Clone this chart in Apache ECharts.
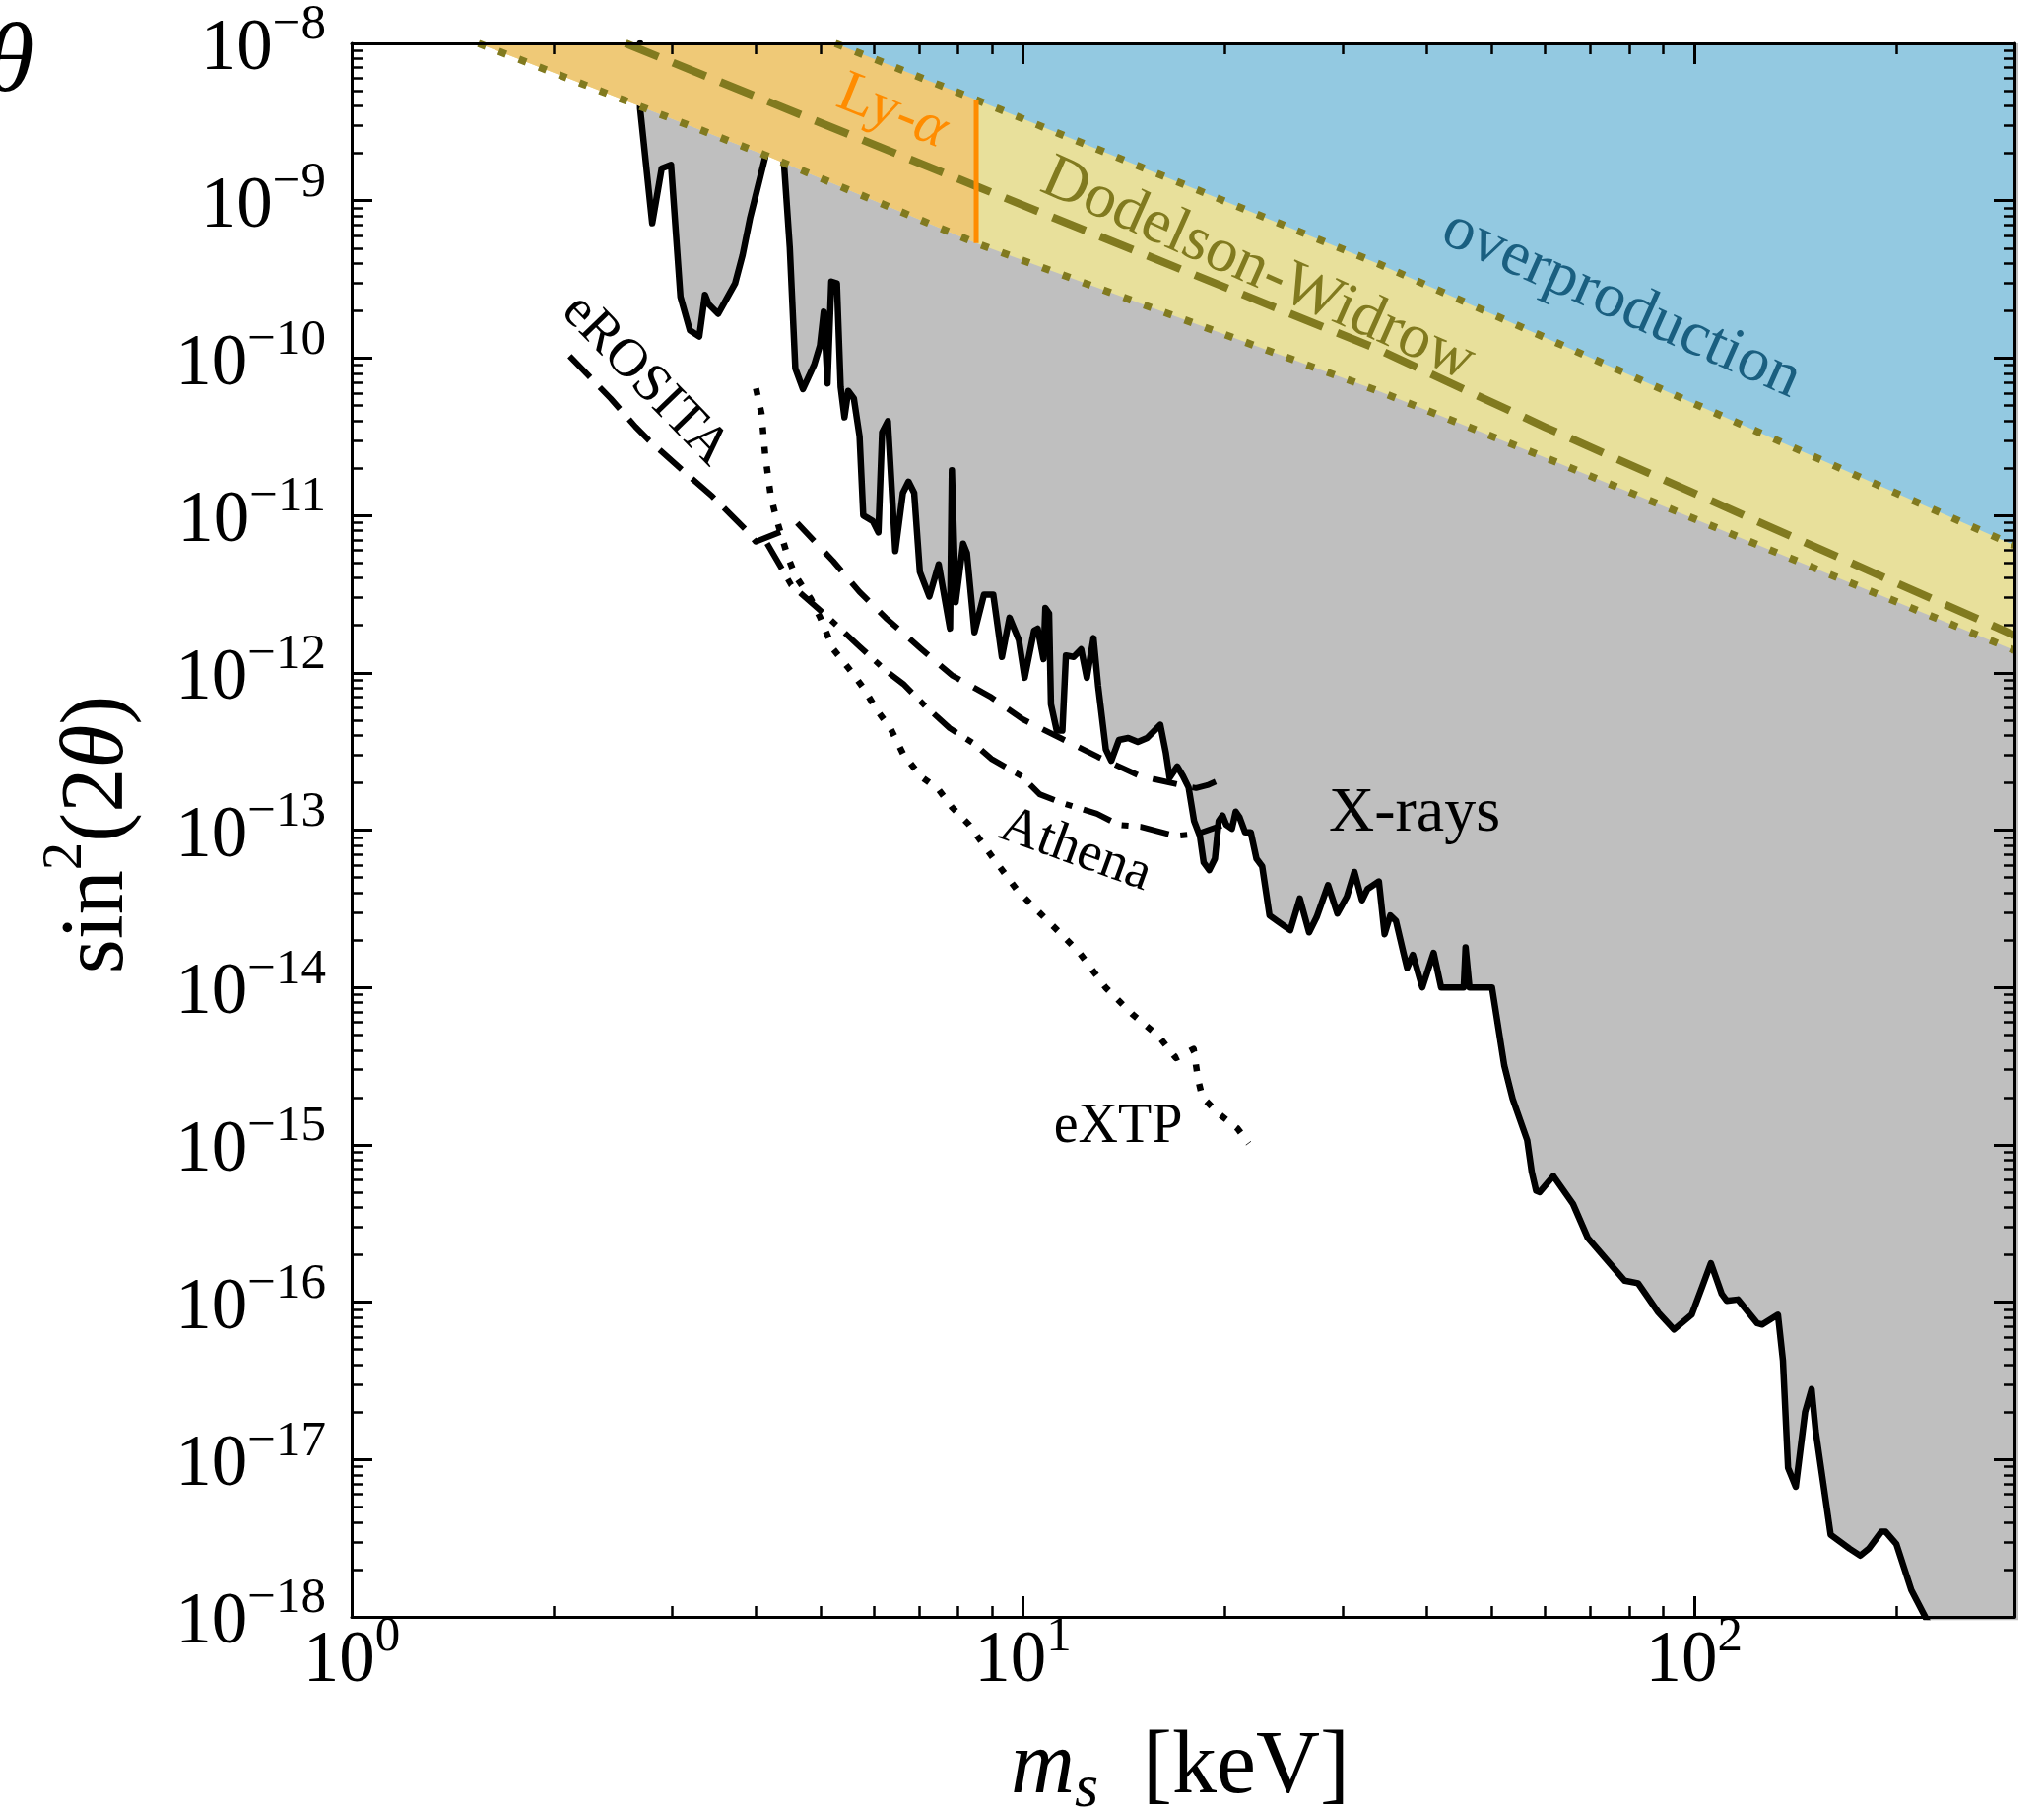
<!DOCTYPE html>
<html>
<head>
<meta charset="utf-8">
<title>Sterile neutrino dark matter: mass vs. mixing</title>
<script src="https://cdn.jsdelivr.net/npm/echarts@6.0.0/dist/echarts.min.js"></script>
<style>
  html, body { margin: 0; padding: 0; background: #ffffff; }
  #chart { width: 2075px; height: 1836px; }
</style>
</head>
<body>
<div id="chart"></div>
<script>
// ---------------------------------------------------------------------------
// Data: sterile neutrino mass m_s [keV] and mixing angle sin^2(2θ)
// ---------------------------------------------------------------------------

// X-ray line-search bound (everything above it is excluded)
const xrayMass = [
  2.690, 2.690, 2.804, 2.896, 2.991, 3.089, 3.191, 3.295, 3.360, 3.403,
  3.516, 3.726, 3.823, 3.924, 4.027, 4.131, 4.261, 4.408, 4.495, 4.581,
  4.702, 4.889, 4.985, 5.050, 5.116, 5.183, 5.283, 5.352, 5.422, 5.493,
  5.600, 5.710, 5.783, 5.974, 6.091, 6.170, 6.292, 6.455, 6.625, 6.754,
  6.887, 7.022, 7.254, 7.491, 7.787, 7.837, 7.940, 8.146, 8.252, 8.469,
  8.749, 9.033, 9.304, 9.550, 9.863, 10.06, 10.39, 10.52, 10.73, 10.80,
  10.94, 11.01, 11.23, 11.45, 11.59, 11.90, 12.21, 12.45, 12.74, 12.94,
  13.29, 13.54, 13.90, 14.35, 14.83, 15.31, 16.02, 16.33, 16.54, 16.98,
  17.31, 17.65, 17.99, 18.35, 18.59, 18.95, 19.32, 19.57, 19.83, 20.09,
  20.48, 20.75, 21.02, 21.43, 21.85, 22.28, 22.72, 23.30, 23.91, 25.02,
  25.85, 26.69, 27.39, 28.48, 29.41, 30.38, 31.18, 32.00, 32.62, 33.91,
  34.58, 35.26, 35.95, 36.89, 37.36, 38.10, 39.35, 40.91, 41.98, 45.36,
  45.65, 46.27, 49.98, 52.14, 53.65, 56.40, 57.27, 58.15, 58.87, 61.69,
  65.99, 69.42, 78.81, 82.49, 88.44, 93.31, 99.15, 102.7, 105.9, 109.9,
  111.8, 116.2, 124.1, 126.3, 133.3, 135.6, 138.0, 141.7, 146.3, 149.6,
  151.7, 159.7, 170.5, 176.8, 182.0, 190.1, 192.9, 200.1, 210.6, 221.5,
  228.0, 320.0
];
const xrayMix = [
  1.0e-8, 3.87e-9, 7.19e-10, 1.60e-9, 1.69e-9, 2.45e-10, 1.50e-10, 1.37e-10, 2.52e-10, 2.20e-10,
  1.91e-10, 2.98e-10, 4.51e-10, 7.83e-10, 1.22e-9, 1.89e-9, 5.1e-9, 1.69e-9, 5.02e-10, 8.61e-11,
  6.35e-11, 9.10e-11, 1.20e-10, 1.97e-10, 6.90e-11, 3.06e-10, 2.98e-10, 6.53e-11, 4.20e-11, 6.18e-11,
  5.53e-11, 3.18e-11, 1.00e-11, 9.20e-12, 7.80e-12, 3.37e-11, 3.97e-11, 5.93e-12, 1.39e-11, 1.64e-11,
  1.39e-11, 4.38e-12, 3.05e-12, 4.89e-12, 1.91e-12, 1.94e-11, 2.81e-12, 6.61e-12, 5.77e-12, 1.81e-12,
  3.14e-12, 3.14e-12, 1.26e-12, 2.24e-12, 1.61e-12, 9.29e-13, 1.85e-12, 1.91e-12, 1.22e-12, 2.58e-12,
  2.38e-12, 6.31e-13, 4.29e-13, 4.29e-13, 1.29e-12, 1.26e-12, 1.41e-12, 9.29e-13, 1.66e-12, 8.32e-13,
  3.26e-13, 2.76e-13, 3.74e-13, 3.85e-13, 3.63e-13, 3.85e-13, 4.67e-13, 3.08e-13, 2.15e-13, 2.54e-13,
  2.21e-13, 1.87e-13, 1.14e-13, 9.16e-14, 6.22e-14, 5.57e-14, 6.58e-14, 1.14e-13, 1.24e-13, 1.08e-13,
  1.02e-13, 1.31e-13, 1.21e-13, 9.68e-14, 9.68e-14, 6.58e-14, 5.89e-14, 2.87e-14, 2.65e-14, 2.31e-14,
  3.68e-14, 2.24e-14, 2.80e-14, 4.47e-14, 2.95e-14, 3.78e-14, 5.42e-14, 3.58e-14, 4.23e-14, 4.72e-14,
  2.18e-14, 2.87e-14, 2.65e-14, 1.66e-14, 1.33e-14, 1.61e-14, 1.0e-14, 1.66e-14, 1.0e-14, 1.0e-14,
  1.80e-14, 1.0e-14, 1.0e-14, 3.18e-15, 1.96e-15, 1.07e-15, 6.76e-16, 5.11e-16, 5.01e-16, 6.34e-16,
  4.21e-16, 2.56e-16, 1.37e-16, 1.32e-16, 8.59e-17, 6.70e-17, 8.32e-17, 1.24e-16, 1.77e-16, 1.13e-16,
  1.02e-16, 1.04e-16, 7.36e-17, 7.21e-17, 8.32e-17, 4.25e-17, 8.85e-18, 6.71e-18, 2.00e-17, 2.80e-17,
  1.52e-17, 3.33e-18, 2.71e-18, 2.45e-18, 2.71e-18, 3.48e-18, 3.48e-18, 2.90e-18, 1.48e-18, 9.8e-19,
  7.6e-19, 7.6e-19
];

// Dodelson-Widrow production: upper edge, central curve, lower edge
const dwUpperMass = [5.254, 8.52, 33.92, 300];
const dwUpperMix = [1.0e-8, 4.38e-9, 3.96e-10, 6.44e-12];
const dwCentralMass = [2.559, 8.52, 33.92, 59.9, 300];
const dwCentralMix = [1.0e-8, 1.236e-9, 1.13e-10, 3.65e-11, 1.73e-12];
const dwLowerMass = [1.545, 2.432, 4.131, 8.52, 33.92, 59.9, 300];
const dwLowerMix = [1.0e-8, 4.70e-9, 1.95e-9, 5.37e-10, 6.15e-11, 2.34e-11, 1.39e-12];

// Lyman-alpha lower mass bound, drawn across the DW band
const lyaMass = 8.52;
const lyaMix = [5.37e-10, 4.38e-9];

// Forecast sensitivities
const erositaMass = [2.112, 2.432, 2.648, 2.768, 3.109, 3.447, 3.874, 4.000, 4.408];
const erositaMix = [1.03e-10, 5.53e-11, 3.66e-11, 3.02e-11, 1.94e-11, 1.32e-11, 8.02e-12, 6.81e-12, 8.02e-12];

const athenaMass = [4.158, 4.517, 5.058, 5.707, 6.249, 6.636, 7.157, 7.776, 8.450, 8.972,
  9.973, 10.59, 11.43, 12.89, 13.90, 14.98, 16.89, 18.24, 19.75];
const athenaMix = [6.65e-12, 3.61e-12, 2.37e-12, 1.47e-12, 1.03e-12, 8.48e-13, 6.14e-13, 4.45e-13, 3.55e-13, 2.84e-13,
  2.19e-13, 1.69e-13, 1.49e-13, 1.27e-13, 1.08e-13, 1.05e-13, 9.16e-14, 9.50e-14, 1.07e-13];

const dashedMass = [4.611, 5.213, 5.707, 6.249, 7.049, 7.837, 8.972, 9.993, 11.37, 12.94,
  14.92, 17.20, 18.11, 18.83, 19.95];
const dashedMix = [8.95e-12, 5.14e-12, 3.27e-12, 2.23e-12, 1.42e-12, 9.64e-13, 6.98e-13, 5.06e-13, 3.85e-13, 2.92e-13,
  2.21e-13, 1.93e-13, 1.85e-13, 1.93e-13, 2.15e-13];

const extpMass = [4.003, 4.079, 4.131, 4.212, 4.295, 4.465, 4.581, 4.826, 4.985, 5.213,
  5.538, 5.794, 6.063, 6.345, 6.636, 7.049, 7.487, 7.837, 8.321, 8.972,
  9.822, 10.43, 11.43, 12.13, 13.28, 14.54, 15.92, 16.90, 17.96, 18.24,
  18.51, 19.67, 20.88, 21.69];
const extpMix = [6.41e-11, 4.44e-11, 2.42e-11, 1.32e-11, 9.46e-12, 5.45e-12, 4.14e-12, 2.97e-12, 2.26e-12, 1.42e-12,
  1.03e-12, 7.94e-13, 5.76e-13, 4.45e-13, 3.03e-13, 2.19e-13, 1.81e-13, 1.40e-13, 1.08e-13, 6.89e-14,
  4.11e-14, 3.18e-14, 2.16e-14, 1.67e-14, 9.98e-15, 6.79e-15, 4.92e-15, 3.56e-15, 4.06e-15, 2.59e-15,
  2.00e-15, 1.55e-15, 1.27e-15, 1.02e-15];

// Axis ranges (decades)
const massRange = [1, 300];
const mixRange = [1e-18, 1e-8];
const xMajorExps = [0, 1, 2];
const yMajorExps = [-18, -17, -16, -15, -14, -13, -12, -11, -10, -9, -8];

// ---------------------------------------------------------------------------
// Helpers
// ---------------------------------------------------------------------------
const SERIF = '"Liberation Serif", "DejaVu Serif", serif';
const OLIVE = '#817a1f';

// both axes are drawn in decades: convert (mass, mixing) pairs to log10 space
function toLog(mass, mix) {
  return mass.map((m, i) => [Math.log10(m), Math.log10(mix[i])]);
}

const X_MIN = Math.log10(massRange[0]);
const X_MAX = Math.log10(massRange[1]);
const Y_MIN = Math.log10(mixRange[0]);
const Y_MAX = Math.log10(mixRange[1]);

function minorTicks(lo, hi) {
  const out = [];
  for (let e = Math.floor(lo); e < Math.ceil(hi); e++) {
    for (let k = 2; k <= 9; k++) {
      const v = e + Math.log10(k);
      if (v > lo && v < hi) out.push(v);
    }
  }
  return out;
}
const xMinor = minorTicks(X_MIN, X_MAX);
const yMinor = minorTicks(Y_MIN, Y_MAX);

function powerLabel(majors) {
  return function (v) {
    const k = Math.round(v);
    if (Math.abs(v - k) > 1e-6 || majors.indexOf(k) < 0) return '';
    const exp = k < 0 ? '\u2212' + (-k) : String(k);
    return '{b|10}{s|' + exp + '}';
  };
}
const tickRich = {
  b: { fontFamily: SERIF, fontSize: 73, color: '#000', verticalAlign: 'bottom' },
  s: { fontFamily: SERIF, fontSize: 51, color: '#000', verticalAlign: 'bottom', padding: [0, 0, 36, 0] }
};

const spine = { show: true, onZero: false, lineStyle: { color: '#000', width: 3 } };
const noSpine = { show: false, onZero: false };
const majorTick = { show: true, inside: true, length: 21, lineStyle: { color: '#000', width: 3 } };
function minorTick(values) {
  return { show: true, inside: true, length: 11, customValues: values, lineStyle: { color: '#000', width: 2.5 } };
}

function xAxisDef(position, major, showLabels) {
  return {
    type: 'value', min: X_MIN, max: X_MAX, position: position, z: 10,
    interval: major ? 1 : undefined,
    axisLine: major ? spine : noSpine,
    axisTick: major ? majorTick : minorTick(xMinor),
    axisLabel: showLabels
      ? { show: true, margin: -5, formatter: powerLabel(xMajorExps), rich: tickRich, showMaxLabel: false }
      : { show: false },
    splitLine: { show: false }
  };
}
function yAxisDef(position, major, showLabels) {
  return {
    type: 'value', min: Y_MIN, max: Y_MAX, position: position, z: 10,
    interval: major ? 1 : undefined,
    axisLine: major ? spine : noSpine,
    axisTick: major ? majorTick : minorTick(yMinor),
    axisLabel: showLabels
      ? { show: true, margin: 26, formatter: powerLabel(yMajorExps), rich: tickRich }
      : { show: false },
    splitLine: { show: false }
  };
}

// Layering: X-ray region (z 2) < band fills (z 3) < band and forecast curves (z 4)
function fillAbove(data, color) {
  return {
    type: 'line', data: data, symbol: 'none', silent: true, z: 3,
    lineStyle: { width: 0, opacity: 0 },
    areaStyle: { color: color, opacity: 1, origin: 'end' }
  };
}
function curve(data, color, width, dash) {
  return {
    type: 'line', data: data, symbol: 'none', silent: true, z: 4,
    lineStyle: { color: color, width: width, type: dash || 'solid', cap: 'butt', join: 'round' }
  };
}

// ---------------------------------------------------------------------------
// Series
// ---------------------------------------------------------------------------
const xrayData = toLog(xrayMass, xrayMix);
const dwUpper = toLog(dwUpperMass, dwUpperMix);
const dwCentral = toLog(dwCentralMass, dwCentralMix);
const dwLower = toLog(dwLowerMass, dwLowerMix);
const dwLowerLya = dwLower.filter((p, i) => dwLowerMass[i] <= lyaMass);
const lyaLine = toLog([lyaMass, lyaMass], lyaMix);

const series = [
  // X-ray excluded region and its boundary
  {
    type: 'line', data: xrayData, symbol: 'none', silent: true, z: 2,
    lineStyle: { color: '#000', width: 6.5, join: 'round', cap: 'round' },
    areaStyle: { color: '#bfbfbf', opacity: 1, origin: 'end' }
  },
  // Dodelson-Widrow band, Ly-alpha excluded part, overproduction
  fillAbove(dwLower, '#e8e09b'),
  fillAbove(dwLowerLya, '#efc977'),
  fillAbove(dwUpper, '#93c9e1'),
  curve(dwUpper, OLIVE, 7.5, [8, 14]),
  curve(dwLower, OLIVE, 7.5, [8, 14]),
  curve(dwCentral, OLIVE, 8, [36, 16]),
  curve(lyaLine, '#ff8c00', 5),
  // forecasts
  curve(toLog(erositaMass, erositaMix), '#000', 6, [30, 14]),
  curve(toLog(dashedMass, dashedMix), '#000', 6, [25, 16]),
  curve(toLog(athenaMass, athenaMix), '#000', 6, [30, 12, 7, 12]),
  curve(toLog(extpMass, extpMix), '#000', 6.5, [7, 13])
];

// ---------------------------------------------------------------------------
// Text annotations
// ---------------------------------------------------------------------------
function deg(d) { return d * Math.PI / 180; }
function note(text, x, y, angle, size, color, extra) {
  const style = Object.assign({
    text: text, fill: color, fontFamily: SERIF, fontSize: size,
    align: 'center', verticalAlign: 'middle', textAlign: 'center', textVerticalAlign: 'middle'
  }, extra || {});
  return { type: 'text', x: x, y: y, rotation: deg(angle), z: 100, silent: true, style: style };
}

const graphics = [
  note('{a|Ly-}{g|\u03b1}', 906, 114, -22, 60, '#ff8c00', {
    rich: {
      a: { fontFamily: SERIF, fontSize: 60, fill: '#ff8c00' },
      g: { fontFamily: SERIF, fontSize: 60, fontStyle: 'italic', fill: '#ff8c00' }
    }
  }),
  note('Dodelson-Widrow', 1277, 274, -24, 64, OLIVE),
  note('overproduction', 1646, 309, -24, 64, '#1a5f80'),
  note('X-rays', 1436, 826, 0, 64, '#000'),
  note('eROSITA', 655, 386, -46, 55, '#000'),
  note('Athena', 1092, 863, -20, 55, '#000'),
  note('eXTP', 1135, 1144, 0, 56, '#000'),
  // axis titles
  note('{a|sin}{p|2}{a|(2}{i|\u03b8}{a|)}', 92, 847, 90, 90, '#000', {
    rich: {
      a: { fontFamily: SERIF, fontSize: 90, fill: '#000', verticalAlign: 'bottom' },
      i: { fontFamily: SERIF, fontSize: 90, fontStyle: 'italic', fill: '#000', verticalAlign: 'bottom' },
      p: { fontFamily: SERIF, fontSize: 57, fill: '#000', verticalAlign: 'bottom', padding: [0, 0, 50, 0] }
    }
  }),
  note('{i|m}{s|s}{a|  [keV]}', 1198, 1799, 0, 90, '#000', {
    rich: {
      a: { fontFamily: SERIF, fontSize: 90, fill: '#000', verticalAlign: 'top' },
      i: { fontFamily: SERIF, fontSize: 90, fontStyle: 'italic', fill: '#000', verticalAlign: 'top' },
      s: { fontFamily: SERIF, fontSize: 62, fontStyle: 'italic', fill: '#000', verticalAlign: 'top', padding: [35, 0, 0, 0] }
    }
  }),
  note('\u03b8', 10, 66, 0, 100, '#000', { fontStyle: 'italic' })
];

// ---------------------------------------------------------------------------
// Chart
// ---------------------------------------------------------------------------
const chart = echarts.init(document.getElementById('chart'), null, { renderer: 'canvas' });
chart.setOption({
  animation: false,
  backgroundColor: '#ffffff',
  textStyle: { fontFamily: SERIF },
  grid: { left: 357, top: 44, width: 1688, height: 1597, containLabel: false },
  xAxis: [
    xAxisDef('bottom', true, true),
    xAxisDef('top', true, false),
    xAxisDef('bottom', false, false),
    xAxisDef('top', false, false)
  ],
  yAxis: [
    yAxisDef('left', true, true),
    yAxisDef('right', true, false),
    yAxisDef('left', false, false),
    yAxisDef('right', false, false)
  ],
  series: series,
  graphic: graphics
});
</script>
</body>
</html>
